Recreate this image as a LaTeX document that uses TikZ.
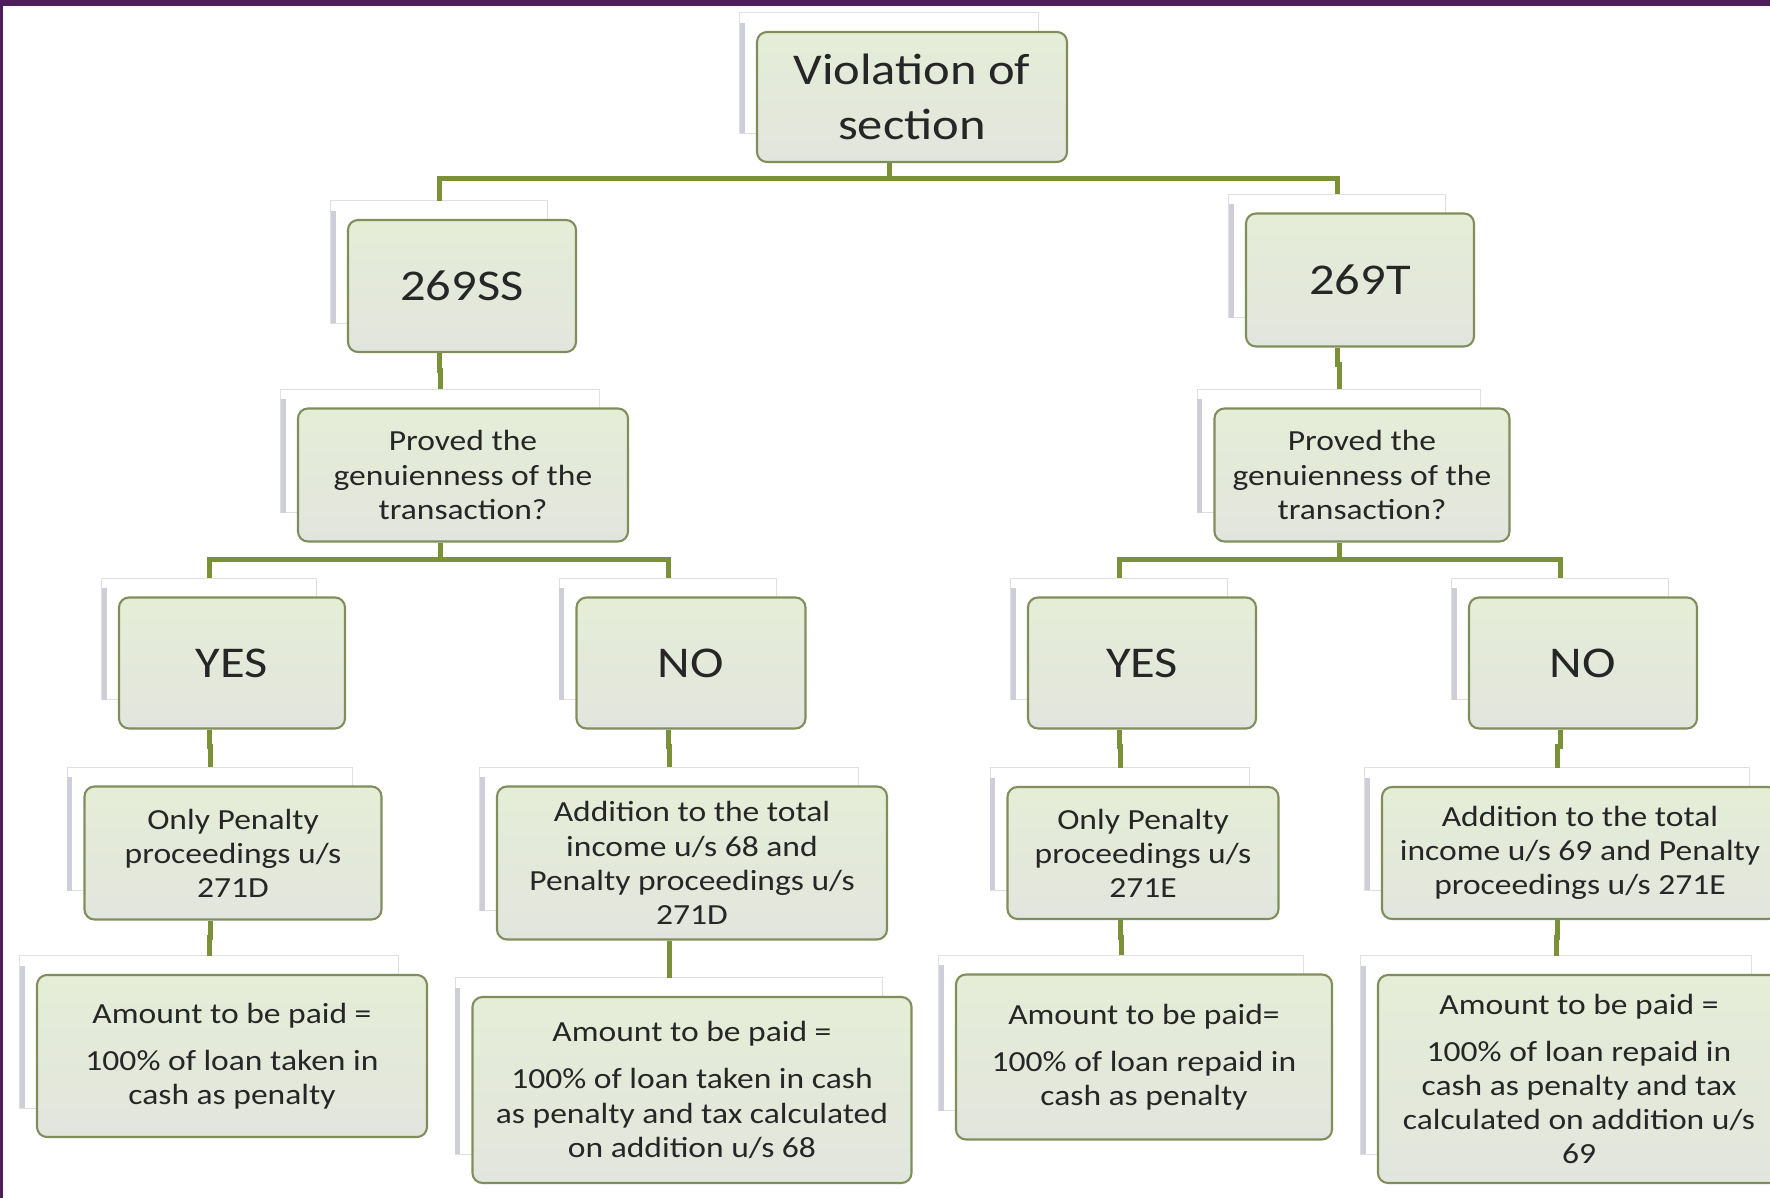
\documentclass[tikz,border=0pt]{standalone}
\usepackage{fontspec}
\setmainfont{Carlito}[FakeStretch=1.15]
\usetikzlibrary{positioning,calc,backgrounds}

\definecolor{framepurple}{RGB}{78,30,92}
\definecolor{boxtop}{RGB}{229,237,214}
\definecolor{boxbot}{RGB}{226,229,222}
\definecolor{boxline}{RGB}{128,142,92}
\definecolor{linkgreen}{RGB}{122,145,55}
\definecolor{ghostside}{RGB}{206,206,216}

\begin{document}
\begin{tikzpicture}[x=0.1mm,y=-0.1mm,
	every node/.style={text=black!85},
	flowbox/.style={rectangle,rounded corners=1mm,draw=boxline,line width=0.6pt,
		top color=boxtop,bottom color=boxbot,inner sep=0pt,align=center},
	bigbox/.style={flowbox,font=\fontsize{12.5}{15.6}\selectfont},
	smallbox/.style={flowbox,font=\fontsize{8.3}{9.7}\selectfont},
	link/.style={draw=linkgreen,line width=0.5mm},
	ghost/.style={fill=white,draw=gray!25,line width=0.3pt}]
	\useasboundingbox (0,0) rectangle (1770,1198);
	
	% level 0 and 1
	\node[bigbox,minimum width=31mm,minimum height=13mm] (root) at (912,97) {Violation of\\section};
	\node[bigbox,minimum width=22.8mm,minimum height=13.2mm] (sSS) at (462,286) {269SS};
	\node[bigbox,minimum width=22.8mm,minimum height=13.3mm] (sT) at (1360,280) {269T};
	
	% question
	\node[smallbox,minimum width=33mm,minimum height=13.3mm] (askSS) at (463,475) {Proved the\\genuienness of the\\transaction?};
	\node[smallbox,minimum width=29.5mm,minimum height=13.3mm] (askT) at (1362,475) {Proved the\\genuienness of the\\transaction?};
	
	% answers
	\node[bigbox,minimum width=22.6mm,minimum height=13.1mm] (yesSS) at (232,663) {YES};
	\node[bigbox,minimum width=22.9mm,minimum height=13.1mm] (noSS) at (691,663) {NO};
	\node[bigbox,minimum width=22.8mm,minimum height=13.1mm] (yesT) at (1142,663) {YES};
	\node[bigbox,minimum width=22.8mm,minimum height=13.1mm] (noT) at (1583,663) {NO};
	
	% proceedings
	\node[smallbox,minimum width=29.7mm,minimum height=13.3mm] (penSS) at (233,853) {Only Penalty\\proceedings u/s\\271D};
	\node[smallbox,minimum width=39mm,minimum height=15.3mm] (addSS) at (692,863) {Addition to the total\\income u/s 68 and\\Penalty proceedings u/s\\271D};
	\node[smallbox,minimum width=27.1mm,minimum height=13.2mm] (penT) at (1143,853) {Only Penalty\\proceedings u/s\\271E};
	\node[smallbox,minimum width=39.6mm,minimum height=13.2mm] (addT) at (1580,853) {Addition to the total\\income u/s 69 and Penalty\\proceedings u/s 271E};
	
	% amounts
	\node[smallbox,minimum width=39mm,minimum height=16.2mm] (amtYSS) at (232,1056) {Amount to be paid =\\[3.7pt]100\% of loan taken in\\cash as penalty};
	\node[smallbox,minimum width=43.9mm,minimum height=18.6mm] (amtNSS) at (692,1090) {Amount to be paid =\\[3.7pt]100\% of loan taken in cash\\as penalty and tax calculated\\on addition u/s 68};
	\node[smallbox,minimum width=37.6mm,minimum height=16.5mm] (amtYT) at (1144,1057) {Amount to be paid=\\[3.7pt]100\% of loan repaid in\\cash as penalty};
	\node[smallbox,minimum width=40.2mm,minimum height=20.8mm] (amtNT) at (1579,1079) {Amount to be paid =\\[3.7pt]100\% of loan repaid in\\cash as penalty and tax\\calculated on addition u/s\\69};
	
	\begin{scope}[on background layer]
		\fill[white] (0,0) rectangle (1770,1198);
		\fill[framepurple] (0,0) rectangle (1770,6);
		\fill[framepurple] (0,0) rectangle (3,1198);
		\foreach \n in {root,sSS,sT,askSS,askT,yesSS,noSS,yesT,noT,penSS,addSS,penT,addT,amtYSS,amtNSS,amtYT,amtNT}{
			\draw[ghost] ($(\n.north west)+(-16,-18)$) rectangle ($(\n.south east)+(-30,-30)$);
			\fill[ghostside] ($(\n.north west)+(-16,-8)$) rectangle ($(\n.south west)+(-11,-30)$);
		}
	\end{scope}
	
	\foreach \p/\c/\d in {root/sSS/15,root/sT/15,sSS/askSS/17,sT/askT/17,
		askSS/yesSS/17,askSS/noSS/17,askT/yesT/17,askT/noT/17,
		yesSS/penSS/17,noSS/addSS/17,yesT/penT/17,noT/addT/17,
		penSS/amtYSS/17,addSS/amtNSS/17,penT/amtYT/17,addT/amtNT/17}
		\draw[link] ([xshift=-2.3mm]\p.south) -- ++(0,\d) -| ([xshift=-2.3mm,yshift=1.8mm]\c.north);
\end{tikzpicture}
\end{document}
